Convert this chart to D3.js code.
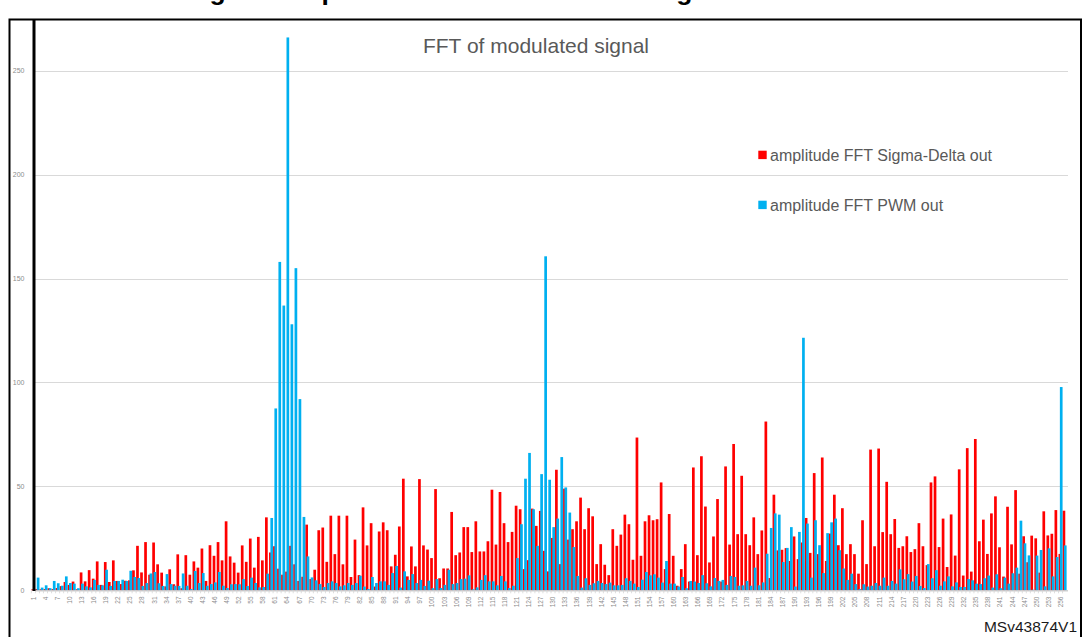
<!DOCTYPE html>
<html>
<head>
<meta charset="utf-8">
<script src="https://cdn.jsdelivr.net/npm/d3@7"></script>
<style>
  body { margin: 0; background: #fff; }
  svg { display: block; }
  text { font-family: "Liberation Sans", Arial, sans-serif; }
</style>
</head>
<body>
<svg id="chart" width="1084" height="637"></svg>
<script>
// FFT bins 1..257
const categories = d3.range(1, 258);

// Amplitude of the FFT of the Sigma-Delta output, per bin
const sigmaDelta = [
  0.5, 0.6, 0.5, 0.6, 1, 0.6, 1.1, 2, 4, 2.6,
  4.2, 0.5, 8.6, 4.3, 9.7, 5.6, 13.9, 2.6, 13.6, 4,
  14.4, 4.5, 3, 4.6, 4.8, 9.6, 21.4, 8.6, 23.2, 7.5,
  23, 12.5, 8.5, 1.9, 10.1, 2.9, 17.3, 1, 16.9, 7.5,
  13.9, 10.9, 20.1, 4.5, 21.7, 16.6, 23.2, 14.4, 33.2, 16.3,
  13.3, 8.5, 21.6, 13.7, 24.9, 10.9, 25.7, 14.4, 35.1, 18.2,
  21.2, 10.4, 7.5, 9, 21.4, 12.5, 4.5, 6.5, 31.6, 5.4,
  9.9, 28.9, 30.2, 13.7, 35.9, 17.4, 35.9, 12.5, 35.9, 6.4,
  24.4, 7.3, 39.9, 21.6, 32.3, 1.8, 28.3, 32.7, 28.9, 11.5,
  17.1, 30.7, 53.7, 6.7, 21.1, 11.5, 53.5, 21.6, 19.6, 15.5,
  48.7, 5.8, 10.5, 10.5, 37.7, 16.9, 18.2, 30.4, 30.4, 18.4,
  33.2, 18.7, 18.7, 23.6, 48.4, 22, 47.3, 32.3, 23.2, 28.1,
  40.7, 39, 10.2, 14.5, 39.3, 31, 38.2, 19, 9.1, 25.2,
  58, 12.6, 48.9, 24.4, 29.4, 33.2, 44.6, 29.4, 39.5, 35.6,
  12.6, 22.2, 12.3, 7.3, 29.4, 21.4, 26.8, 36.4, 31.8, 14.7,
  73.5, 16.6, 33.2, 36.1, 33.7, 34.2, 51.9, 10.2, 36.7, 16.6,
  2.2, 10.2, 22.2, 4.2, 59.1, 16.9, 64.5, 40.3, 13.4, 25.9,
  43.9, 4.2, 59.6, 22, 70.4, 27, 55.1, 27, 21.7, 35.1,
  17.4, 28.8, 81.2, 5.9, 46, 19.2, 19.5, 20.3, 14.1, 25.9,
  15, 23, 34.8, 18, 56.4, 17.4, 63.9, 14.1, 27.3, 46,
  21.7, 39.5, 17.4, 22.2, 17.4, 8, 33.7, 12.6, 67.7, 21.2,
  68.2, 28, 52.2, 27, 34.3, 20.4, 21.2, 26, 18.4, 19.8,
  32.3, 21.2, 12.1, 51.9, 54.8, 20.8, 34.5, 11.2, 36.5, 16.7,
  58.2, 7.1, 68.4, 9, 72.8, 23.6, 34, 17.5, 37, 45.2,
  20.7, 6.6, 40.2, 22.1, 48.2, 8, 26, 13.5, 26.3, 25,
  8.5, 38, 26.4, 27.2, 38.6, 17.5, 38.3
];

// Amplitude of the FFT of the PWM output, per bin
const pwm = [
  0.5, 6.1, 1.3, 2.4, 1, 4.5, 3.4, 2.2, 6.7, 3.5,
  3.2, 1, 3.2, 1.9, 1.4, 5, 2.6, 2.4, 9.9, 2.1,
  4.5, 4.5, 5.1, 4.5, 9.4, 6.4, 5.9, 2.1, 3.5, 8.1,
  8.8, 3.4, 2.1, 7.8, 3, 2.2, 2.1, 8.1, 2.2, 0.6,
  9.3, 3.5, 8.3, 2.2, 3, 3.8, 8.8, 2.2, 1.1, 2.9,
  3, 2.9, 5.4, 2.1, 6.1, 3.5, 1.4, 1.6, 8, 34.8,
  87.5, 158, 137, 266, 128, 155, 92, 35.3, 16.3, 6.2,
  4.8, 3, 1.6, 3.5, 4.3, 3.5, 1.9, 2.4, 3.5, 2.6,
  3.5, 7, 1.8, 0.6, 6.4, 3.5, 4.3, 4.3, 2.6, 8.3,
  11.7, 1.3, 9.1, 5, 7.8, 3.5, 5, 2.1, 4.6, 1,
  5.4, 1.1, 2.6, 9.9, 3, 3.5, 5.4, 5.6, 7.2, 0.5,
  1.4, 5, 7.3, 4.3, 4.3, 2.4, 6.9, 4.3, 1.1, 2.2,
  15.5, 31.8, 53.7, 66.1, 39, 21.4, 55.9, 160.7, 53.2, 30.4,
  34.5, 64.1, 49.5, 37.4, 20.8, 6.9, 1.3, 5.8, 2.6, 3.4,
  4.5, 3.5, 3, 3.7, 2.4, 2.4, 2.6, 5.8, 4.5, 3.2,
  1.6, 5.1, 8.8, 7.2, 7.7, 6.1, 3.7, 14.1, 3.2, 3.2,
  1.8, 6.4, 1, 4.5, 4.2, 3.5, 7.3, 3.4, 1.9, 5.9,
  4.5, 5, 2.6, 6.9, 6.4, 2.2, 2.4, 4.5, 2.2, 10.9,
  2.4, 3.8, 17.6, 30, 37, 36.4, 13.6, 20.4, 30.4, 1.8,
  28.1, 121.5, 32.1, 6.1, 33.7, 21.7, 8.3, 27.5, 32.7, 34.5,
  19.3, 10.5, 5, 8, 3, 0.6, 2.9, 1.8, 2.2, 3.5,
  2.2, 6.1, 2.2, 4.5, 3.2, 10.1, 5.3, 7.8, 4.2, 6.9,
  2.1, 1.1, 12.6, 5.8, 9.7, 2.2, 4.3, 6.7, 1.9, 3.8,
  1.6, 1.6, 5.4, 4.8, 3.2, 3, 5.8, 7.1, 1.3, 7.7,
  1, 6.1, 3.2, 8.2, 10.9, 33.5, 22.6, 16.8, 0.3, 16.7,
  19.4, 1.9, 20.2, 6.7, 16, 97.8, 21.6
];

const yTicks = [0, 50, 100, 150, 200, 250];
// every third bin is labelled on the category axis
const xTickLabels = categories.filter(c => (c - 1) % 3 === 0);

const seriesNames = ["amplitude FFT Sigma-Delta out", "amplitude FFT PWM out"];
const seriesColors = ["#ff0000", "#00b0f0"];

const svg = d3.select("#chart");

const x = d3.scaleBand().domain(categories).range([31.4, 1066.6]).padding(0);
const y = d3.scaleLinear().domain([0, 250]).range([590.3, 70.7]);
const bw = x.bandwidth();
const barW = bw * 0.67;

// horizontal gridlines
svg.append("g").selectAll("line").data(yTicks).join("line")
  .attr("x1", 35).attr("x2", 1068)
  .attr("y1", d => Math.round(y(d)) + 0.5).attr("y2", d => Math.round(y(d)) + 0.5)
  .attr("stroke", "#d9d9d9").attr("stroke-width", 1);

// y tick labels
svg.append("g").selectAll("text").data(yTicks).join("text")
  .attr("x", 24.5).attr("y", d => y(d)).attr("dy", "0.35em")
  .attr("text-anchor", "end").attr("font-size", 7).attr("fill", "#8c8c8c")
  .text(d => d);

// bars: Sigma-Delta behind, PWM in front and shifted right
const bars = svg.append("g");
bars.selectAll("rect.sd").data(categories).join("rect").attr("class", "sd")
  .attr("x", c => x(c)).attr("width", barW)
  .attr("y", (c, i) => y(sigmaDelta[i])).attr("height", (c, i) => y(0) - y(sigmaDelta[i]))
  .attr("fill", seriesColors[0]);
bars.selectAll("rect.pwm").data(categories).join("rect").attr("class", "pwm")
  .attr("x", c => x(c) + bw - barW).attr("width", barW)
  .attr("y", (c, i) => y(pwm[i])).attr("height", (c, i) => y(0) - y(pwm[i]))
  .attr("fill", seriesColors[1]);

// category axis line and ticks
svg.append("line").attr("x1", 35).attr("x2", 1068)
  .attr("y1", y(0) + 0.5).attr("y2", y(0) + 0.5)
  .attr("stroke", "#cfcfcf").attr("stroke-width", 1.2);
svg.append("g").selectAll("line").data(categories).join("line")
  .attr("x1", c => x(c)).attr("x2", c => x(c))
  .attr("y1", y(0) + 0.5).attr("y2", y(0) + 3)
  .attr("stroke", "#d6d6d6").attr("stroke-width", 0.8);

// x tick labels, rotated
svg.append("g").selectAll("text").data(xTickLabels).join("text")
  .attr("transform", c => `translate(${x(c) + bw / 2},596.5) rotate(-90)`)
  .attr("dy", "0.35em").attr("text-anchor", "end")
  .attr("font-size", 6.5).attr("fill", "#8c8c8c")
  .text(c => c);

// chart title
svg.append("text").attr("x", 536).attr("y", 53).attr("text-anchor", "middle")
  .attr("font-size", 21).attr("fill", "#595959").text("FFT of modulated signal");

// legend
const legend = svg.append("g").selectAll("g").data(seriesNames).join("g")
  .attr("transform", (d, i) => `translate(758.3,${150.7 + i * 50})`);
legend.append("rect").attr("width", 8.4).attr("height", 8.4)
  .attr("fill", (d, i) => seriesColors[i]);
legend.append("text").attr("x", 11.7).attr("y", 10)
  .attr("font-size", 16).attr("fill", "#595959").text(d => d);

// heavy left rule and figure frame
svg.append("line").attr("x1", 34).attr("x2", 34).attr("y1", 19).attr("y2", 591)
  .attr("stroke", "#000").attr("stroke-width", 3);
svg.append("path").attr("d", "M9.5,640V19.5H1081V640")
  .attr("fill", "none").attr("stroke", "#000").attr("stroke-width", 2);

// figure caption above the frame (only its lowest part falls inside the page)
svg.append("text").attr("x", 186).attr("y", 0).attr("font-size", 26.5)
  .attr("font-weight", "bold").attr("fill", "#000")
  .text("Figure 9. Spectrum of the modulated signal");

// document reference
svg.append("text").attr("x", 1077).attr("y", 632).attr("text-anchor", "end")
  .attr("font-size", 15.5).attr("fill", "#1a1a1a").text("MSv43874V1");
</script>
</body>
</html>
